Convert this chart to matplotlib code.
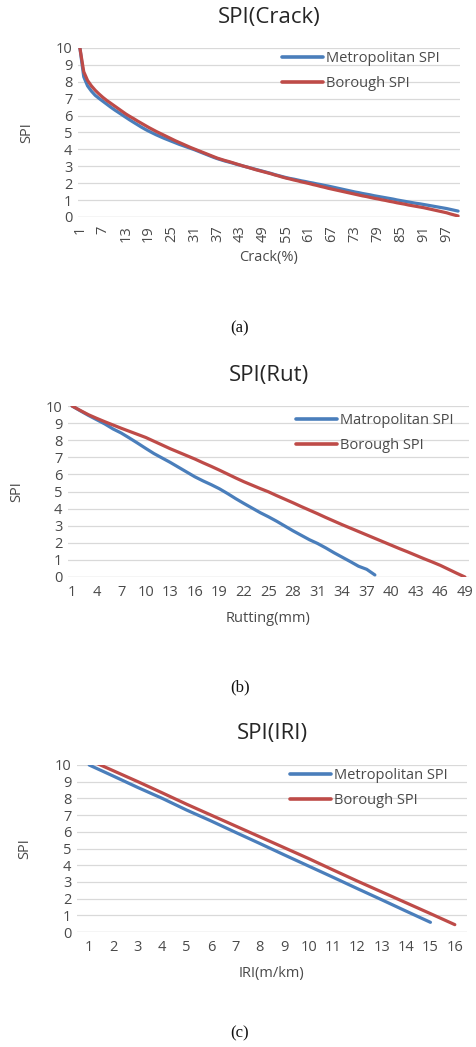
import matplotlib
matplotlib.use("Agg")
import matplotlib.pyplot as plt
import numpy as np

# ---------------- data ----------------
crack_metro = [10.00, 8.30, 7.76, 7.45, 7.20, 7.02, 6.85, 6.68, 6.51, 6.35,
               6.20, 6.05, 5.90, 5.75, 5.61, 5.47, 5.33, 5.20, 5.08, 4.97,
               4.86, 4.76, 4.66, 4.57, 4.48, 4.39, 4.30, 4.22, 4.14, 4.06,
               3.98, 3.89, 3.80, 3.71, 3.62, 3.53, 3.45, 3.38, 3.31, 3.25,
               3.19, 3.12, 3.06, 3.00, 2.94, 2.88, 2.82, 2.76, 2.70, 2.64,
               2.58, 2.51, 2.45, 2.39, 2.33, 2.28, 2.24, 2.19, 2.14, 2.10,
               2.05, 2.01, 1.96, 1.92, 1.87, 1.83, 1.78, 1.73, 1.68, 1.63,
               1.58, 1.53, 1.48, 1.44, 1.39, 1.35, 1.31, 1.26, 1.22, 1.18,
               1.14, 1.10, 1.06, 1.01, 0.97, 0.93, 0.89, 0.85, 0.81, 0.78,
               0.74, 0.70, 0.66, 0.62, 0.58, 0.54, 0.50, 0.45, 0.40, 0.35]
crack_borough = [10.00, 8.60, 8.08, 7.76, 7.50, 7.28, 7.08, 6.90, 6.74, 6.58,
                 6.42, 6.26, 6.10, 5.96, 5.83, 5.69, 5.56, 5.43, 5.30, 5.18,
                 5.06, 4.95, 4.84, 4.73, 4.62, 4.51, 4.41, 4.31, 4.21, 4.11,
                 4.02, 3.93, 3.84, 3.75, 3.66, 3.57, 3.48, 3.41, 3.34, 3.28,
                 3.21, 3.14, 3.07, 3.00, 2.94, 2.87, 2.80, 2.74, 2.68, 2.62,
                 2.56, 2.49, 2.43, 2.36, 2.30, 2.25, 2.19, 2.14, 2.08, 2.03,
                 1.98, 1.92, 1.87, 1.81, 1.76, 1.70, 1.65, 1.60, 1.55, 1.50,
                 1.45, 1.40, 1.35, 1.30, 1.25, 1.21, 1.16, 1.11, 1.07, 1.02,
                 0.98, 0.93, 0.89, 0.84, 0.80, 0.76, 0.71, 0.67, 0.63, 0.59,
                 0.55, 0.50, 0.45, 0.40, 0.35, 0.30, 0.25, 0.18, 0.12, 0.06]
crack_categories = list(range(1, 101))

rut_metro = [10.00, 9.72, 9.45, 9.20, 8.95, 8.66, 8.42, 8.13, 7.83, 7.52,
             7.22, 6.96, 6.70, 6.42, 6.14, 5.86, 5.62, 5.40, 5.16, 4.88,
             4.58, 4.30, 4.03, 3.76, 3.52, 3.26, 2.98, 2.70, 2.44, 2.18,
             1.96, 1.70, 1.42, 1.16, 0.90, 0.63, 0.45, 0.12]
rut_borough = [10.00, 9.74, 9.49, 9.28, 9.08, 8.89, 8.70, 8.52, 8.34, 8.16,
               7.94, 7.72, 7.50, 7.30, 7.10, 6.90, 6.68, 6.47, 6.25, 6.02,
               5.79, 5.57, 5.37, 5.17, 4.98, 4.76, 4.55, 4.34, 4.12, 3.91,
               3.70, 3.48, 3.27, 3.06, 2.86, 2.66, 2.46, 2.26, 2.06, 1.86,
               1.66, 1.47, 1.27, 1.07, 0.88, 0.68, 0.45, 0.22, 0.00]
rut_categories = list(range(1, 50))

iri_metro = [10.00, 9.33, 8.65, 8.00, 7.30, 6.65, 5.97, 5.30, 4.62, 3.95,
             3.28, 2.60, 1.93, 1.25, 0.58]
iri_borough = [10.30, 9.65, 9.00, 8.33, 7.65, 7.00, 6.35, 5.70, 5.05, 4.40,
               3.72, 3.05, 2.40, 1.75, 1.10, 0.44]
iri_categories = list(range(1, 17))

yticks = list(range(0, 11))

# ---------------- style ----------------
W, H = 476, 1047
DPI = 100
BLUE = "#4A7EBB"
RED = "#BE4B48"
GRID = "#D9D9D9"
TXT = "#4A4A4A"
TITLE = "#262626"
FONT = "Open Sans"
plt.rcParams["font.family"] = [FONT, "DejaVu Sans"]

fig = plt.figure(figsize=(W / DPI, H / DPI), dpi=DPI)


def px_axes(left, top, right, bottom):
    return fig.add_axes([left / W, 1 - bottom / H, (right - left) / W, (bottom - top) / H])


def make_panel(left, top, right, bottom, cats, s1, s2, l1, l2, title, xlabel,
               tick_step, rot, title_y, xlabel_y, ylabel_x, leg_x, leg_y, cap, cap_y):
    ax = px_axes(left, top, right, bottom)
    n = len(cats)
    x = np.arange(n)
    ax.plot(x[:len(s1)], s1, color=BLUE, lw=2.3, label=l1, solid_capstyle="round", zorder=3)
    ax.plot(x[:len(s2)], s2, color=RED, lw=2.3, label=l2, solid_capstyle="round", zorder=3)
    ax.set_xlim(-0.5, n - 0.5)
    ax.set_ylim(0, 10)
    ax.set_yticks(yticks)
    ax.set_yticklabels([str(v) for v in yticks], fontsize=10.5, color=TXT)
    idx = list(range(0, n, tick_step))
    ax.set_xticks(idx)
    ax.set_xticklabels([str(cats[i]) for i in idx], fontsize=10.5, color=TXT, rotation=rot)
    ax.tick_params(length=0, pad=4)
    ax.tick_params(axis="x", pad=6)
    for s in ax.spines.values():
        s.set_visible(False)
    ax.grid(axis="y", color=GRID, lw=0.9)
    ax.set_axisbelow(True)
    ax.axhline(0, color=GRID, lw=0.9, zorder=1)
    fig.text((left + right) / 2 / W, 1 - title_y / H, title, ha="center", va="center",
             fontsize=16, color=TITLE)
    fig.text((left + right) / 2 / W, 1 - xlabel_y / H, xlabel, ha="center", va="center",
             fontsize=10.5, color=TXT)
    fig.text(ylabel_x / W, 1 - (top + bottom) / 2 / H, "SPI", ha="center", va="center",
             rotation=90, fontsize=10.5, color=TXT)
    leg = ax.legend(loc="upper left", bbox_to_anchor=(leg_x / W, 1 - leg_y / H),
                    bbox_transform=fig.transFigure, frameon=False, fontsize=10.5,
                    handlelength=2.8, handletextpad=0.2, labelspacing=0.7,
                    borderpad=0, borderaxespad=0)
    for t in leg.get_texts():
        t.set_color(TXT)
    for h in leg.get_lines():
        h.set_linewidth(2.6)
    fig.text(240 / W, 1 - cap_y / H, cap, ha="center", va="center",
             fontsize=12, family="Liberation Serif", color="#111111")
    return ax


make_panel(78, 48, 460, 217, crack_categories, crack_metro, crack_borough,
           "Metropolitan SPI", "Borough SPI", "SPI(Crack)", "Crack(%)",
           6, 90, 17, 257, 27, 282, 51, "(a)", 328)
make_panel(68, 406, 469, 577, rut_categories, rut_metro, rut_borough,
           "Matropolitan SPI", "Borough SPI", "SPI(Rut)", "Rutting(mm)",
           3, 0, 375, 618, 17, 296, 413, "(b)", 687)
make_panel(77, 765, 467, 932, iri_categories, iri_metro, iri_borough,
           "Metropolitan SPI", "Borough SPI", "SPI(IRI)", "IRI(m/km)",
           1, 0, 733, 973, 25, 290, 768, "(c)", 1033)

fig.savefig("out.png", dpi=DPI)
